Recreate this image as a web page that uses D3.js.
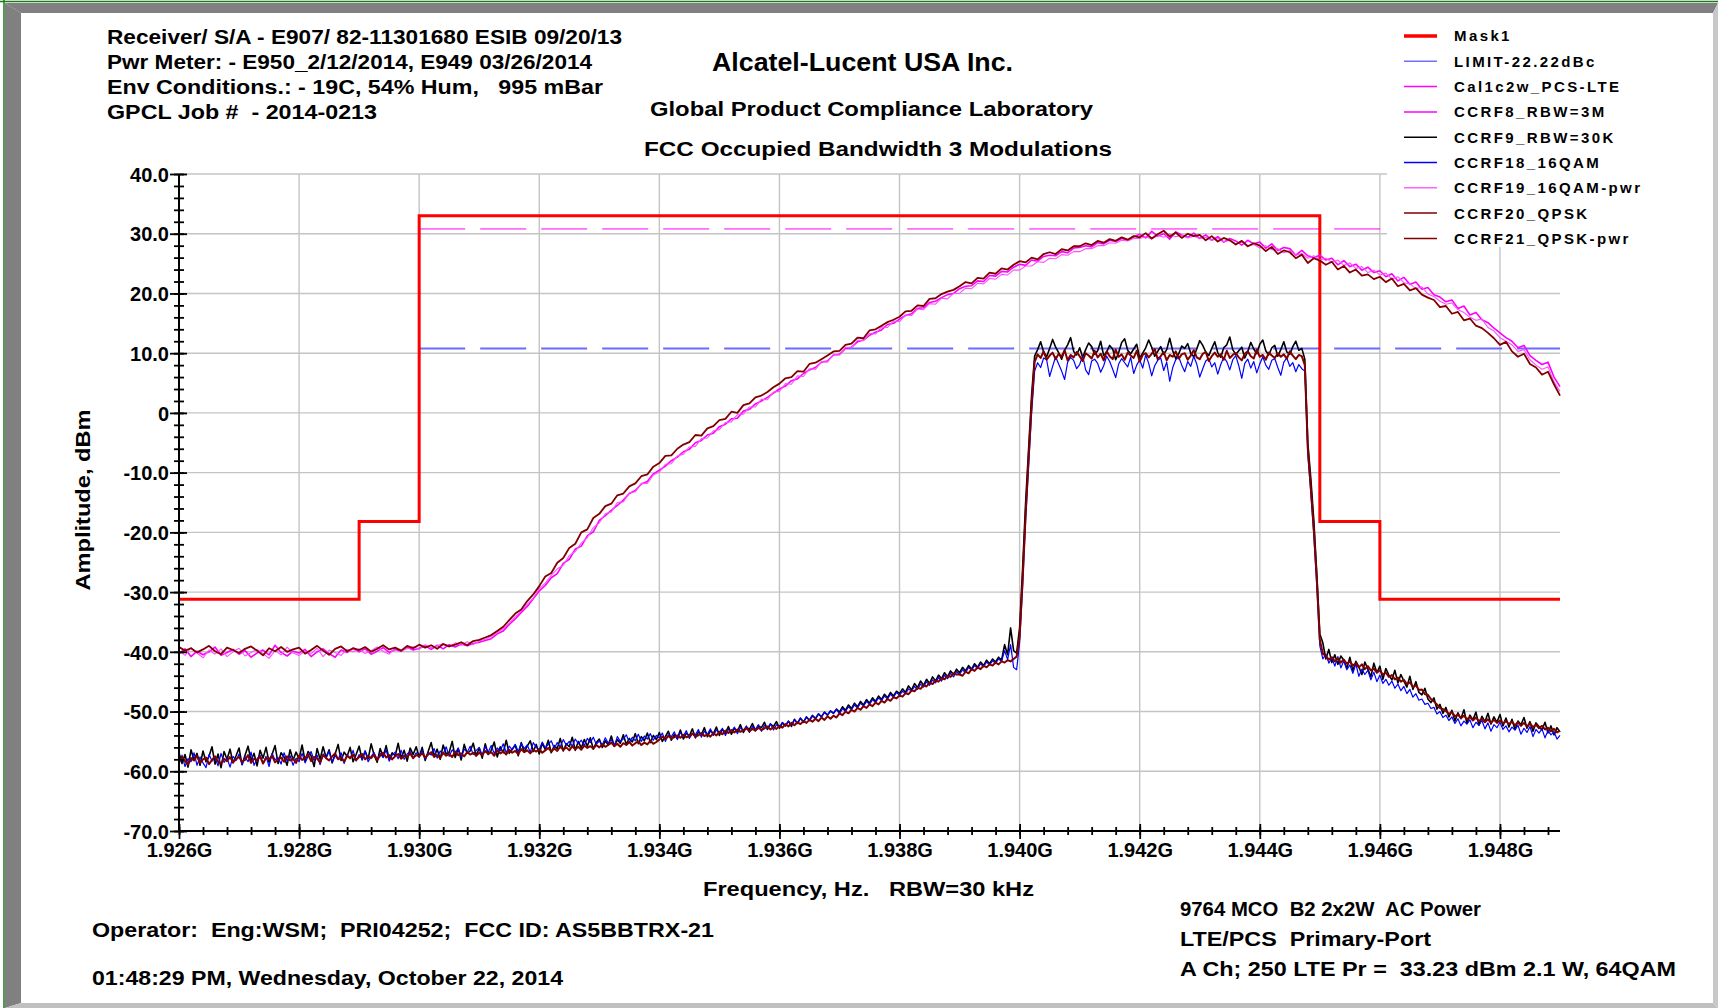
<!DOCTYPE html>
<html>
<head>
<meta charset="utf-8">
<title>FCC Occupied Bandwidth 3 Modulations</title>
<script src="https://cdn.jsdelivr.net/npm/d3@7"></script>
<style>
  body { margin: 0; background: #fff; overflow: hidden; }
  text { font-family: "Liberation Sans", Arial, sans-serif; font-weight: bold; fill: #000; white-space: pre; }
</style>
</head>
<body>
<script>

// ---- data (GHz / dBm) ----
// wide (RBW 3 MHz) traces: every 0.1 MHz from 1.926 GHz
// narrow (RBW 30 kHz) traces: every 0.05 MHz from 1.926 GHz
const FREQ_START = 1.926;
const WIDE_STEP = 0.0001;
const NARROW_STEP = 0.00005;

const xTicksMajor = [1.926, 1.928, 1.930, 1.932, 1.934, 1.936, 1.938, 1.940, 1.942, 1.944, 1.946, 1.948];
const yTicksMajor = [-70, -60, -50, -40, -30, -20, -10, 0, 10, 20, 30, 40];

const maskFreq  = [1.926, 1.929, 1.929, 1.930, 1.930, 1.945, 1.945, 1.946, 1.946, 1.949];
const maskLevel = [-31.2, -31.2, -18.2, -18.2, 33.0, 33.0, -18.2, -18.2, -31.2, -31.2];

const limitFreq = [1.930, 1.949];
const limitLevel = 10.8;
const calFreq = [1.930, 1.949];
const calLevel = 30.8;

// CCRF9_RBW=30K (black)
const ccrf9 = [
-56.9,-58.7,-57.2,-59.3,-56.4,-58.1,-57.0,-59.0,-56.6,-58.4,-57.5,-55.9,-58.8,-57.1,-59.4,-56.7,-58.0,-56.3,-58.6,-57.4,
-56.1,-58.9,-57.3,-55.8,-58.2,-57.0,-59.1,-56.5,-57.8,-56.0,-58.5,-57.2,-55.7,-58.7,-56.9,-57.6,-59.0,-56.4,-58.1,-56.8,
-57.9,-55.6,-58.3,-56.7,-57.4,-59.2,-56.2,-58.0,-55.9,-57.7,-56.4,-58.6,-57.1,-55.5,-58.2,-56.8,-57.5,-56.0,-58.4,-57.2,
-55.8,-58.1,-56.6,-57.9,-55.4,-57.3,-58.5,-56.2,-57.6,-55.7,-58.0,-56.9,-57.4,-55.3,-57.8,-56.5,-58.3,-56.1,-57.2,-55.9,
-57.6,-56.0,-58.2,-56.7,-55.2,-57.5,-56.3,-58.0,-55.6,-57.1,-56.8,-55.0,-57.7,-56.2,-58.1,-55.5,-57.0,-56.6,-55.3,-57.4,
-56.1,-57.8,-55.4,-57.2,-56.5,-55.1,-57.6,-55.9,-56.9,-54.8,-57.0,-56.3,-55.6,-57.4,-55.2,-56.8,-55.8,-54.9,-56.7,-55.5,
-57.1,-55.3,-56.4,-54.8,-56.9,-55.7,-56.2,-54.5,-56.6,-55.4,-55.9,-54.3,-56.5,-55.0,-56.1,-54.7,-55.8,-54.4,-56.3,-55.2,
-54.6,-56.0,-54.9,-55.6,-54.1,-55.8,-54.7,-55.3,-53.9,-55.5,-54.5,-55.1,-53.7,-55.4,-54.2,-54.9,-53.6,-55.2,-54.0,-54.7,
-53.5,-55.0,-54.2,-53.3,-54.8,-53.8,-54.5,-53.1,-54.6,-53.6,-54.1,-52.9,-54.4,-53.4,-53.9,-52.7,-54.2,-53.2,-53.7,-52.6,
-54.0,-53.0,-53.6,-52.5,-53.8,-52.8,-53.3,-52.2,-53.5,-52.6,-53.0,-52.0,-53.2,-52.4,-52.7,-51.8,-53.0,-52.1,-52.5,-51.7,
-52.8,-51.9,-52.4,-51.6,-52.5,-51.3,-52.0,-51.1,-51.8,-50.9,-51.5,-50.7,-51.2,-50.4,-50.9,-50.1,-50.6,-49.9,-50.3,-49.6,
-50.1,-49.2,-49.8,-48.9,-49.5,-48.6,-49.2,-48.3,-48.9,-48.0,-48.6,-47.7,-48.3,-47.4,-48.0,-47.1,-47.7,-46.8,-47.4,-46.6,
-47.0,-46.2,-46.8,-45.7,-46.4,-45.3,-46.0,-44.9,-45.6,-44.6,-45.3,-44.2,-44.9,-43.9,-44.5,-43.5,-44.2,-43.2,-43.8,-42.9,
-43.5,-42.6,-43.2,-42.3,-42.9,-42.0,-42.6,-41.7,-42.3,-41.4,-42.0,-41.2,-41.7,-40.9,-41.4,-38.8,-40.5,-36.0,-39.8,-40.2,
-36.0,-26.0,-15.0,-6.0,3.0,9.5,
10.6,11.9,10.2,9.4,10.8,12.3,11.0,10.1,9.0,10.5,11.4,12.6,10.3,9.7,10.9,9.3,10.6,11.7,11.1,9.8,
10.4,12.0,9.6,10.2,11.3,10.7,8.9,10.1,11.8,12.4,10.5,9.9,10.7,11.5,9.2,10.0,10.9,12.2,11.0,9.5,
10.3,11.1,9.8,10.6,12.5,10.4,9.1,9.9,11.2,10.8,11.6,10.0,9.4,10.7,12.1,11.3,10.2,9.6,10.8,11.9,
10.1,9.3,10.9,11.4,12.7,10.6,9.8,10.4,11.0,9.2,10.3,11.8,10.7,9.9,11.5,12.2,10.4,9.7,10.9,11.3,
9.5,10.6,11.9,10.2,9.8,11.1,12.0,10.5,10.8,
9.0,-5.0,-11.0,-18.0,-27.0,-37.0,-38.5,
-41.2,-39.6,-41.8,-40.5,-42.1,-40.7,-41.4,-42.8,-40.9,-43.2,-41.6,-42.5,-43.8,-41.7,-42.9,-44.2,-41.9,-43.5,-42.4,-44.6,
-42.8,-43.9,-44.7,-43.1,-45.2,-43.8,-44.9,-45.9,-44.1,-46.3,-45.0,-46.8,-47.2,-46.1,-47.9,-48.5,-47.7,-49.6,-48.8,-50.3,
-49.3,-50.9,-49.8,-51.6,-50.2,-51.2,-49.7,-52.0,-50.6,-51.4,-50.1,-52.3,-50.8,-51.7,-50.3,-52.1,-50.9,-51.8,-50.5,-52.4,
-51.1,-52.6,-51.3,-53.0,-51.6,-52.2,-51.0,-52.8,-51.7,-53.3,-51.9,-52.5,-53.1,-51.8,-53.6,-52.4,-53.9,-52.7,-53.4
];

// CCRF18_16QAM (blue)
const ccrf18 = [
-58.8,-57.3,-59.2,-57.9,-58.4,-56.9,-59.0,-57.6,-58.6,-59.4,-57.2,-58.3,-57.7,-59.1,-57.0,-58.5,-57.8,-59.3,-57.5,-58.2,
-57.1,-58.9,-57.6,-58.4,-56.8,-59.0,-57.9,-57.3,-58.7,-57.5,-59.2,-57.0,-58.1,-57.7,-58.8,-56.9,-58.3,-57.4,-59.0,-57.8,
-58.4,-57.0,-58.6,-57.5,-56.7,-58.2,-57.3,-58.9,-57.1,-57.8,-56.6,-58.5,-57.4,-58.0,-56.9,-58.7,-57.2,-57.9,-56.5,-58.3,
-57.2,-58.0,-56.6,-58.4,-57.5,-56.9,-58.1,-57.0,-57.7,-56.4,-58.3,-57.3,-56.8,-57.9,-56.5,-58.0,-57.1,-56.7,-57.8,-56.9,
-57.6,-56.5,-58.0,-56.9,-57.3,-56.2,-57.8,-56.6,-57.1,-55.9,-57.5,-56.4,-57.0,-56.1,-57.6,-56.3,-56.8,-55.8,-57.2,-56.5,
-56.0,-57.3,-55.9,-56.8,-55.7,-57.0,-56.1,-56.6,-55.4,-56.9,-55.8,-56.4,-55.5,-56.7,-55.3,-56.2,-55.6,-56.8,-55.2,-56.0,
-56.4,-55.1,-56.1,-55.5,-54.9,-56.2,-55.2,-55.9,-54.7,-55.6,-55.0,-55.8,-54.6,-55.4,-54.8,-55.7,-54.5,-55.2,-54.3,-55.5,
-54.9,-55.6,-54.4,-55.3,-54.7,-55.8,-54.2,-55.0,-54.6,-53.9,-55.2,-54.3,-54.9,-53.8,-55.0,-54.1,-54.6,-53.7,-54.8,-54.0,
-54.4,-53.6,-55.0,-53.9,-54.2,-53.4,-54.7,-53.5,-54.1,-53.2,-54.5,-53.7,-53.9,-53.0,-54.3,-53.3,-53.8,-52.9,-54.0,-53.1,
-53.5,-52.8,-54.0,-53.0,-53.3,-52.6,-53.7,-52.7,-53.2,-52.4,-53.5,-52.5,-53.0,-52.2,-53.3,-52.3,-52.8,-52.0,-53.1,-52.2,
-52.6,-51.8,-52.4,-51.6,-52.2,-51.4,-51.9,-51.1,-51.7,-50.9,-51.4,-50.6,-51.1,-50.4,-50.9,-50.1,-50.6,-49.9,-50.3,-49.6,
-50.4,-49.5,-50.0,-49.2,-49.7,-48.9,-49.4,-48.6,-49.1,-48.3,-48.8,-48.0,-48.5,-47.7,-48.2,-47.4,-47.9,-47.1,-47.6,-46.8,
-47.3,-46.6,-47.0,-46.2,-46.6,-45.8,-46.3,-45.4,-45.9,-45.0,-45.6,-44.7,-45.2,-44.3,-44.9,-43.9,-44.5,-43.6,-44.2,-43.3,
-43.8,-43.0,-43.5,-42.6,-43.1,-42.3,-42.8,-42.0,-42.5,-41.7,-42.2,-41.5,-41.9,-41.2,-41.6,-39.8,-41.3,-38.8,-42.6,-43.0,
-38.5,-29.0,-18.0,-9.0,0.0,7.0,
8.4,7.6,9.2,8.9,6.1,7.8,9.4,8.2,7.0,5.6,8.5,9.3,8.8,7.4,8.1,9.6,7.2,6.4,8.7,9.0,
8.3,6.8,7.9,9.5,8.6,7.3,5.9,8.2,9.1,8.4,7.7,9.3,6.6,8.0,8.9,7.5,9.7,8.3,6.2,7.9,
8.8,9.2,7.1,8.5,5.3,7.6,8.9,9.4,8.0,6.9,8.6,7.8,9.5,8.2,6.0,7.4,8.7,9.1,7.7,8.4,
6.5,8.1,9.3,8.6,7.2,8.9,9.6,7.9,5.8,8.3,9.0,7.5,8.6,6.7,8.2,9.4,8.0,7.3,8.8,9.1,
7.6,6.3,8.5,9.2,7.8,8.4,6.9,8.1,7.4,
7.0,-7.0,-13.5,-20.5,-29.0,-39.0,-41.2,
-40.4,-41.9,-41.0,-42.4,-40.8,-42.7,-41.5,-43.0,-42.2,-43.6,-42.0,-44.1,-42.9,-43.8,-43.1,-44.7,-43.4,-45.0,-43.9,-45.3,
-44.6,-45.6,-44.9,-46.1,-45.4,-46.5,-45.8,-47.0,-46.3,-47.6,-47.0,-48.1,-47.9,-48.8,-48.6,-49.5,-49.3,-50.4,-50.0,-51.0,
-50.6,-51.5,-50.9,-52.0,-51.2,-52.4,-51.6,-52.1,-51.4,-52.7,-51.8,-52.3,-51.5,-52.9,-51.9,-53.3,-52.2,-52.7,-51.8,-53.0,
-52.4,-53.4,-52.6,-53.1,-52.3,-53.8,-52.8,-53.5,-52.5,-54.2,-53.0,-53.6,-52.9,-54.4,-53.2,-53.9,-53.4,-54.6,-54.0
];

// CCRF20_QPSK (dark red)
const ccrf20 = [
-58.4,-57.6,-58.3,-58.9,-57.8,-58.2,-57.4,-58.6,-58.0,-57.7,-58.8,-58.1,-57.5,-58.4,-58.7,-57.9,-58.3,-57.6,-58.5,-58.0,
-57.6,-58.4,-58.1,-57.3,-58.6,-57.9,-58.2,-57.5,-58.7,-57.8,-58.0,-57.4,-58.5,-58.1,-57.7,-58.4,-57.5,-58.2,-57.9,-58.6,
-57.4,-58.1,-57.8,-57.2,-58.3,-57.6,-57.9,-58.5,-57.3,-57.8,-58.2,-57.5,-57.0,-58.0,-57.7,-58.4,-57.4,-57.8,-57.2,-58.1,
-57.6,-57.1,-58.0,-57.5,-57.8,-57.2,-58.1,-57.4,-56.9,-57.7,-57.3,-58.0,-57.5,-57.1,-57.9,-57.4,-57.6,-57.0,-57.8,-57.3,
-57.5,-57.0,-57.7,-57.2,-56.8,-57.6,-57.3,-57.8,-56.9,-57.4,-57.1,-57.6,-56.7,-57.3,-57.0,-57.5,-56.8,-57.2,-56.9,-57.4,
-56.9,-57.3,-56.6,-57.1,-56.8,-57.4,-56.5,-57.0,-56.7,-57.2,-56.4,-56.9,-56.6,-57.1,-56.3,-56.8,-56.5,-57.0,-56.4,-56.7,
-56.3,-56.9,-56.5,-56.1,-56.7,-56.2,-56.6,-55.9,-56.4,-56.0,-56.5,-55.8,-56.3,-55.9,-56.4,-55.7,-56.1,-55.8,-56.2,-55.6,
-56.0,-55.5,-55.9,-55.6,-55.2,-55.8,-55.4,-55.9,-55.3,-55.6,-55.1,-55.7,-55.3,-55.0,-55.6,-55.2,-55.5,-54.9,-55.4,-55.1,
-54.7,-54.2,-54.6,-54.1,-54.5,-54.3,-54.0,-54.4,-53.9,-54.3,-54.1,-53.7,-54.2,-54.0,-53.6,-54.1,-53.8,-54.2,-53.6,-54.0,
-53.4,-53.8,-53.2,-53.6,-53.1,-53.5,-53.0,-53.4,-53.1,-52.8,-53.3,-52.9,-53.2,-52.7,-53.1,-52.8,-52.5,-53.0,-52.6,-52.9,
-52.4,-52.7,-52.1,-52.5,-51.9,-52.3,-51.8,-52.1,-51.6,-51.9,-51.4,-51.7,-51.2,-51.6,-51.0,-51.4,-50.8,-51.2,-50.7,-51.0,
-50.3,-50.6,-50.0,-50.3,-49.7,-50.0,-49.4,-49.7,-49.1,-49.4,-48.8,-49.1,-48.5,-48.8,-48.2,-48.5,-47.9,-48.2,-47.6,-47.8,
-47.3,-47.5,-46.9,-47.1,-46.5,-46.6,-46.0,-46.2,-45.6,-45.8,-45.2,-45.4,-44.8,-45.0,-44.4,-44.6,-44.0,-44.2,-43.6,-43.8,
-43.8,-44.0,-43.3,-43.6,-42.9,-43.2,-42.6,-42.9,-42.3,-42.6,-42.1,-42.3,-41.8,-42.1,-41.6,-41.8,-41.4,-41.6,-41.2,-40.8,
-37.5,-28.0,-17.0,-7.5,1.5,8.5,
9.8,9.2,10.3,8.9,9.6,10.1,9.0,9.9,9.4,10.5,8.8,9.7,9.3,10.2,9.5,8.7,10.0,9.6,9.1,10.4,
9.3,9.9,8.8,10.3,9.5,9.0,10.6,9.4,9.8,8.9,10.1,9.6,9.2,10.4,8.6,9.7,10.0,9.3,9.9,10.7,
9.0,9.5,10.2,8.8,9.7,9.4,10.3,9.1,9.8,10.0,8.9,9.6,10.5,9.3,9.0,9.9,10.2,8.7,9.5,10.1,
9.4,9.8,8.9,10.4,9.2,9.7,10.0,9.3,8.8,9.9,10.3,9.5,9.1,10.6,9.4,9.7,8.9,10.1,9.6,9.2,
10.0,9.4,9.8,9.1,10.3,9.6,9.0,9.7,9.5,
8.0,-6.0,-12.5,-19.5,-28.0,-38.0,-40.3,
-40.7,-41.3,-40.9,-41.6,-41.1,-41.8,-41.3,-42.0,-41.6,-42.3,-41.9,-42.6,-42.1,-42.9,-42.4,-43.1,-42.8,-43.5,-43.1,-43.8,
-43.5,-44.2,-43.9,-44.6,-44.3,-45.0,-44.7,-45.4,-45.1,-45.9,-45.6,-46.4,-46.3,-47.1,-47.2,-47.9,-48.3,-48.8,-49.4,-49.6,
-49.9,-50.4,-50.1,-50.8,-50.5,-51.1,-50.7,-51.3,-50.9,-51.5,-51.0,-51.6,-51.2,-51.8,-51.3,-51.9,-51.4,-51.9,-51.5,-52.0,
-51.6,-52.1,-51.7,-52.3,-51.8,-52.4,-51.9,-52.5,-52.0,-52.6,-52.2,-52.8,-52.4,-53.0,-52.7,-53.3,-52.9,-53.5,-53.2
];

// CCRF8_RBW=3M (magenta)
const ccrf8 = [
-40.3,-39.5,-40.8,-39.9,-40.5,-40.0,-39.2,-40.6,-40.1,-39.6,
-40.4,-39.8,-40.9,-40.2,-39.7,-40.5,-38.9,-40.1,-40.7,-39.9,
-40.2,-39.6,-40.8,-40.0,-39.5,-40.3,-40.9,-39.7,-40.1,-39.4,
-40.0,-39.5,-40.4,-39.9,-39.3,-40.1,-39.6,-39.9,-39.2,-39.7,
-39.4,-39.0,-39.6,-38.9,-39.5,-38.8,-39.2,-38.7,-39.0,-38.6,
-38.4,-38.1,-37.8,-37.0,-36.5,-35.4,-34.5,-33.4,-32.4,-31.1,
-29.8,-28.9,-27.6,-26.9,-25.2,-24.5,-22.8,-22.3,-20.6,-19.9,
-18.0,-17.2,-16.3,-15.5,-14.6,-13.5,-13.0,-11.9,-11.5,-10.2,
-9.6,-8.9,-8.0,-7.4,-6.5,-6.1,-5.0,-4.6,-3.7,-3.4,
-2.3,-1.9,-1.0,-0.9,0.3,0.6,1.5,2.0,2.6,3.3,
4.0,4.5,5.4,5.7,6.6,7.2,7.6,8.5,8.7,9.7,
9.8,10.8,11.0,11.9,12.2,13.0,13.5,13.9,14.8,15.0,
15.7,16.3,16.6,17.5,17.6,18.5,18.7,19.3,19.8,20.0,
20.8,21.2,21.3,22.1,22.0,23.0,22.9,23.7,23.6,24.4,
24.9,24.7,25.6,25.4,26.2,26.4,26.3,27.0,26.8,27.6,
27.7,28.0,27.8,28.5,28.3,28.9,28.7,29.2,28.9,29.5,
29.9,29.3,30.4,29.6,30.0,29.1,30.3,29.8,29.4,30.1,
29.2,29.8,28.9,29.5,28.6,29.2,28.8,28.1,28.9,28.3,
28.6,27.6,28.3,27.2,27.7,27.5,26.4,27.2,26.3,26.0,
26.4,25.6,25.9,24.8,25.5,24.5,24.9,23.9,24.4,23.5,
23.8,22.8,23.3,22.1,22.7,21.5,21.9,20.7,21.0,19.8,
19.4,18.6,18.9,17.5,17.9,16.4,16.8,15.6,15.1,14.2,
13.4,12.6,12.0,10.9,11.3,9.6,8.8,8.1,8.5,6.0,
4.4
];

// CCRF19_16QAM-pwr (light magenta)
const ccrf19 = [
-39.8,-40.6,-39.3,-40.2,-41.0,-39.7,-40.4,-39.5,-40.8,-40.0,
-39.4,-40.7,-40.1,-39.6,-40.3,-41.1,-39.8,-40.5,-39.2,-40.2,
-40.6,-39.9,-40.3,-39.4,-40.8,-39.7,-40.1,-40.6,-39.6,-40.0,
-39.5,-40.3,-39.8,-39.2,-39.9,-40.4,-39.4,-39.8,-39.5,-39.1,
-39.6,-38.8,-39.3,-39.0,-38.6,-39.2,-38.5,-38.9,-38.3,-38.8,
-38.2,-37.9,-37.4,-36.8,-36.1,-35.2,-34.1,-33.2,-32.0,-31.0,
-29.4,-28.5,-27.2,-26.1,-25.5,-23.9,-23.2,-21.8,-20.9,-19.2,
-18.4,-16.9,-16.6,-15.0,-14.9,-13.4,-13.2,-11.8,-11.8,-10.4,
-9.9,-8.6,-8.5,-7.2,-6.9,-5.7,-5.6,-4.3,-4.2,-3.0,
-2.8,-1.6,-1.5,-0.3,-0.2,1.0,1.0,2.3,2.2,3.5,
3.6,4.9,4.8,6.2,6.1,7.4,7.3,8.6,8.5,9.8,
9.7,11.0,10.9,12.2,12.1,13.3,13.2,14.4,14.3,15.4,
15.3,16.4,16.3,17.4,17.3,18.3,18.2,19.2,19.1,20.0,
20.0,20.9,20.8,21.7,21.6,22.5,22.4,23.2,23.1,23.9,
23.9,24.6,24.6,25.3,25.2,25.9,25.8,26.5,26.4,27.0,
27.0,27.5,27.5,28.0,28.0,28.5,28.4,28.9,28.8,29.2,
29.2,29.5,29.1,29.7,29.4,29.9,29.5,29.8,29.3,29.6,
29.2,29.4,28.9,29.2,28.6,28.9,28.3,28.6,27.9,28.2,
27.6,28.0,27.3,27.5,26.8,27.2,26.4,26.7,25.9,26.3,
25.6,25.9,25.2,25.6,24.7,25.1,24.2,24.5,23.5,23.9,
23.1,23.4,22.4,22.8,21.8,21.6,20.8,21.1,19.9,19.5,
18.7,18.2,18.4,17.3,16.8,16.0,15.5,15.7,14.3,13.7,
12.6,12.0,11.4,10.3,10.6,8.9,8.0,7.3,7.7,5.2,
3.6
];

// CCRF21_QPSK-pwr (dark red)
const ccrf21 = [
-39.2,-39.8,-39.4,-40.1,-39.6,-39.0,-39.9,-40.4,-39.3,-39.7,
-40.2,-39.5,-39.1,-39.8,-40.6,-39.4,-39.9,-39.2,-40.0,-39.6,
-39.3,-40.3,-39.7,-39.0,-39.8,-40.5,-39.5,-39.1,-39.9,-39.4,
-39.7,-39.2,-40.0,-39.5,-38.9,-39.6,-39.3,-39.8,-39.0,-39.4,
-38.8,-39.3,-38.9,-39.5,-38.7,-39.1,-38.8,-38.4,-38.9,-38.2,
-38.0,-37.6,-37.2,-36.5,-35.8,-34.7,-33.6,-32.9,-31.5,-30.4,
-29.0,-27.4,-26.8,-25.1,-24.3,-22.6,-21.9,-20.0,-19.5,-17.6,
-16.9,-15.6,-15.2,-13.8,-13.5,-12.3,-11.8,-10.6,-10.3,-9.0,
-8.4,-7.2,-7.1,-6.0,-5.3,-4.9,-3.7,-3.8,-2.6,-2.2,
-1.2,-1.0,0.2,0.0,1.3,1.6,2.6,2.9,3.5,4.3,
4.9,5.8,6.0,7.0,6.9,8.2,8.4,9.0,9.6,10.3,
10.4,11.4,11.6,12.6,12.5,13.8,14.0,14.6,15.2,15.6,
16.1,17.0,17.1,18.0,17.9,19.1,19.2,19.9,20.3,20.6,
21.2,21.9,21.7,22.6,22.5,23.5,23.3,24.2,24.0,24.8,
25.4,25.2,26.0,25.7,26.6,26.9,26.6,27.4,27.2,27.9,
27.9,28.4,28.1,28.8,28.5,29.1,28.8,29.4,29.0,29.6,
29.4,30.1,29.2,29.9,30.5,29.5,30.2,29.3,30.0,29.6,
29.8,28.9,29.6,28.7,29.3,28.9,28.2,28.8,27.9,28.4,
28.0,27.1,27.8,26.6,27.2,26.9,25.9,26.5,25.1,25.9,
25.5,24.8,25.3,24.0,24.6,23.5,24.0,23.0,23.2,22.4,
22.8,21.9,22.5,21.2,21.6,20.5,20.9,19.8,19.3,18.9,
17.7,17.9,16.6,16.9,15.5,15.8,14.6,14.2,13.4,12.5,
11.4,11.9,10.3,9.4,9.9,8.2,7.6,6.4,6.9,4.8,
2.9
];

const legendNames = ["Mask1", "LIMIT-22.22dBc", "Cal1c2w_PCS-LTE", "CCRF8_RBW=3M", "CCRF9_RBW=30K",
                     "CCRF18_16QAM", "CCRF19_16QAM-pwr", "CCRF20_QPSK", "CCRF21_QPSK-pwr"];
const legendColors = ["#ff0000", "#7070ff", "#ff00ff", "#ff00ff", "#000000",
                      "#0000ff", "#ff60ff", "#800000", "#800000"];

const headerLines = ["Receiver/ S/A - E907/ 82-11301680 ESIB 09/20/13",
                     "Pwr Meter: - E950_2/12/2014, E949 03/26/2014",
                     "Env Conditions.: - 19C, 54% Hum,   995 mBar",
                     "GPCL Job #  - 2014-0213"];
const infoLines = ["9764 MCO  B2 2x2W  AC Power",
                   "LTE/PCS  Primary-Port",
                   "A Ch; 250 LTE Pr =  33.23 dBm 2.1 W, 64QAM"];

// ---- drawing ----
const W = 1718, H = 1008;
const svg = d3.select("body").append("svg")
    .attr("width", W)
    .attr("height", H);

// window frame
svg.append("rect").attr("width", W).attr("height", H).attr("fill", "#fff");
svg.append("polygon").attr("points", "5,3 1718,3 1713,13 21,13").attr("fill", "#808080");
svg.append("polygon").attr("points", "5,3 21,13 21,1003 5,1008").attr("fill", "#808080");
svg.append("polygon").attr("points", "5,1008 21,1003 1713,1003 1718,1008").attr("fill", "#c0c0c0");
svg.append("polygon").attr("points", "1718,3 1718,1008 1713,1003 1713,13").attr("fill", "#c8c8c8");
svg.append("line").attr("x1", 4).attr("x2", 4).attr("y1", 0).attr("y2", H).attr("stroke", "#1a7a1a").attr("stroke-width", 1.5);
svg.append("line").attr("x1", 0).attr("x2", W).attr("y1", 1.5).attr("y2", 1.5).attr("stroke", "#1a7a1a").attr("stroke-width", 1.5);

let x = d3.scaleLinear().domain([1.926, 1.949]).range([179, 1560]);
let y = d3.scaleLinear().domain([-70, 40]).range([831, 174]);

// grid
let grid = svg.append("g").attr("stroke", "#c4c4c4").attr("stroke-width", 1.4);
grid.selectAll(".gv").data(xTicksMajor.slice(1)).join("line")
    .attr("x1", d => x(d)).attr("x2", d => x(d))
    .attr("y1", y(40)).attr("y2", y(-70));
grid.selectAll(".gh").data(yTicksMajor.slice(1)).join("line")
    .attr("x1", x(1.926)).attr("x2", x(1.949))
    .attr("y1", d => y(d)).attr("y2", d => y(d));

// dashed reference lines
svg.append("line")
    .attr("x1", x(calFreq[0])).attr("x2", x(calFreq[1]))
    .attr("y1", y(calLevel)).attr("y2", y(calLevel))
    .attr("stroke", "#ff00ff").attr("stroke-width", 1)
    .attr("stroke-dasharray", "46,15");
svg.append("line")
    .attr("x1", x(limitFreq[0])).attr("x2", x(limitFreq[1]))
    .attr("y1", y(limitLevel)).attr("y2", y(limitLevel))
    .attr("stroke", "#6a6aff").attr("stroke-width", 2)
    .attr("stroke-dasharray", "46,15");

// mask
svg.append("path")
    .datum(maskFreq.map((f, i) => [f, maskLevel[i]]))
    .attr("fill", "none").attr("stroke", "#ff0000").attr("stroke-width", 3)
    .attr("stroke-linejoin", "miter")
    .attr("d", d3.line().x(d => x(d[0])).y(d => y(d[1])));

// traces
function traceLine(step) {
    return d3.line()
        .x((d, i) => x(FREQ_START + i * step))
        .y(d => y(d));
}

let traces = [
    {v: ccrf8,  s: WIDE_STEP,   c: "#ff00ff", w: 1.6},
    {v: ccrf19, s: WIDE_STEP,   c: "#ff50ff", w: 1.1},
    {v: ccrf21, s: WIDE_STEP,   c: "#800000", w: 1.8},
    {v: ccrf9,  s: NARROW_STEP, c: "#000000", w: 1.6},
    {v: ccrf18, s: NARROW_STEP, c: "#0000ff", w: 1.2},
    {v: ccrf20, s: NARROW_STEP, c: "#800000", w: 2.0}
];
svg.append("g").selectAll("path").data(traces).join("path")
    .attr("fill", "none")
    .attr("stroke", d => d.c)
    .attr("stroke-width", d => d.w)
    .attr("stroke-linejoin", "round")
    .attr("d", d => traceLine(d.s)(d.v));

// axes with ticks crossing the axis line
let xMinor = d3.range(0, 58).map(i => 1.926 + i * 0.0004).filter(f => f <= 1.9491);
let yMinor = d3.range(-70, 41, 2);

function tickGroup(axis, tx, ty) {
    let g = svg.append("g").attr("transform", `translate(${tx},${ty})`).call(axis);
    g.select(".domain").remove();
    g.selectAll("line").attr("stroke", "#000").attr("stroke-width", 1.8);
    return g;
}
tickGroup(d3.axisBottom(x).tickValues(xTicksMajor).tickSize(8).tickFormat(""), 0, y(-70));
tickGroup(d3.axisTop(x).tickValues(xTicksMajor).tickSize(7).tickFormat(""), 0, y(-70));
tickGroup(d3.axisBottom(x).tickValues(xMinor).tickSize(4).tickFormat(""), 0, y(-70));
tickGroup(d3.axisTop(x).tickValues(xMinor).tickSize(4).tickFormat(""), 0, y(-70));
tickGroup(d3.axisLeft(y).tickValues(yTicksMajor).tickSize(9).tickFormat(""), x(1.926), 0);
tickGroup(d3.axisRight(y).tickValues(yTicksMajor).tickSize(8).tickFormat(""), x(1.926), 0);
tickGroup(d3.axisLeft(y).tickValues(yMinor).tickSize(5).tickFormat(""), x(1.926), 0);
tickGroup(d3.axisRight(y).tickValues(yMinor).tickSize(5).tickFormat(""), x(1.926), 0);

svg.append("line").attr("x1", x(1.926)).attr("x2", x(1.949))
    .attr("y1", y(-70)).attr("y2", y(-70)).attr("stroke", "#000").attr("stroke-width", 2);
svg.append("line").attr("x1", x(1.926)).attr("x2", x(1.926))
    .attr("y1", y(-70)).attr("y2", y(40)).attr("stroke", "#000").attr("stroke-width", 2);

// tick labels
let xl = svg.append("g").attr("transform", `translate(0,${y(-70)})`)
    .call(d3.axisBottom(x).tickValues(xTicksMajor).tickSize(0).tickPadding(12)
        .tickFormat(d => d.toFixed(3) + "G"));
xl.select(".domain").remove();
xl.selectAll("text").attr("font-size", 20).attr("font-family", "Liberation Sans, Arial, sans-serif")
    .attr("font-weight", "bold").attr("dy", "0.71em");

let yl = svg.append("g").attr("transform", `translate(${x(1.926)},0)`)
    .call(d3.axisLeft(y).tickValues(yTicksMajor).tickSize(0).tickPadding(10)
        .tickFormat(d => d === 0 ? "0" : d.toFixed(1)));
yl.select(".domain").remove();
yl.selectAll("text").attr("font-size", 20).attr("font-family", "Liberation Sans, Arial, sans-serif")
    .attr("font-weight", "bold").attr("dy", "0.36em");

// legend
svg.append("rect").attr("x", 1387).attr("y", 13).attr("width", 326).attr("height", 234).attr("fill", "#fff");
let leg = svg.append("g").selectAll("g").data(legendNames).join("g")
    .attr("transform", (d, i) => `translate(1404,${36 + i * 25.3})`);
leg.append("line").attr("x1", 0).attr("x2", 33)
    .attr("stroke", (d, i) => legendColors[i])
    .attr("stroke-width", (d, i) => i === 0 ? 3.5 : 1.5);
leg.append("text").attr("x", 50).attr("dy", "0.36em")
    .attr("font-size", 15).attr("letter-spacing", "2.4px")
    .text(d => d);

// titles and notes
function label(txt, px, py, size, len, anchor) {
    let t = svg.append("text").attr("x", px).attr("y", py)
        .attr("font-size", size).attr("text-anchor", anchor || "start").text(txt);
    if (len) t.attr("textLength", len).attr("lengthAdjust", "spacingAndGlyphs");
    return t;
}
const headerLen = [515, 485, 496, 270];
headerLines.forEach((s, i) => label(s, 107, 44 + i * 25, 20, headerLen[i]));

label("Alcatel-Lucent USA Inc.", 712, 71, 26, 301);
label("Global Product Compliance Laboratory", 650, 116, 20, 443);
label("FCC Occupied Bandwidth 3 Modulations", 644, 156, 20, 468);

label("Frequency, Hz.   RBW=30 kHz", 703, 896, 20, 331);
label("Operator:  Eng:WSM;  PRI04252;  FCC ID: AS5BBTRX-21", 92, 937, 20, 622);
label("01:48:29 PM, Wednesday, October 22, 2014", 92, 985, 20, 471);

const infoLen = [301, 251, 496];
infoLines.forEach((s, i) => label(s, 1180, 916 + i * 30, 20, infoLen[i]));

svg.append("text")
    .attr("transform", "translate(90,500) rotate(-90)")
    .attr("text-anchor", "middle")
    .attr("font-size", 20)
    .attr("textLength", 181).attr("lengthAdjust", "spacingAndGlyphs")
    .text("Amplitude, dBm");

</script>
</body>
</html>
